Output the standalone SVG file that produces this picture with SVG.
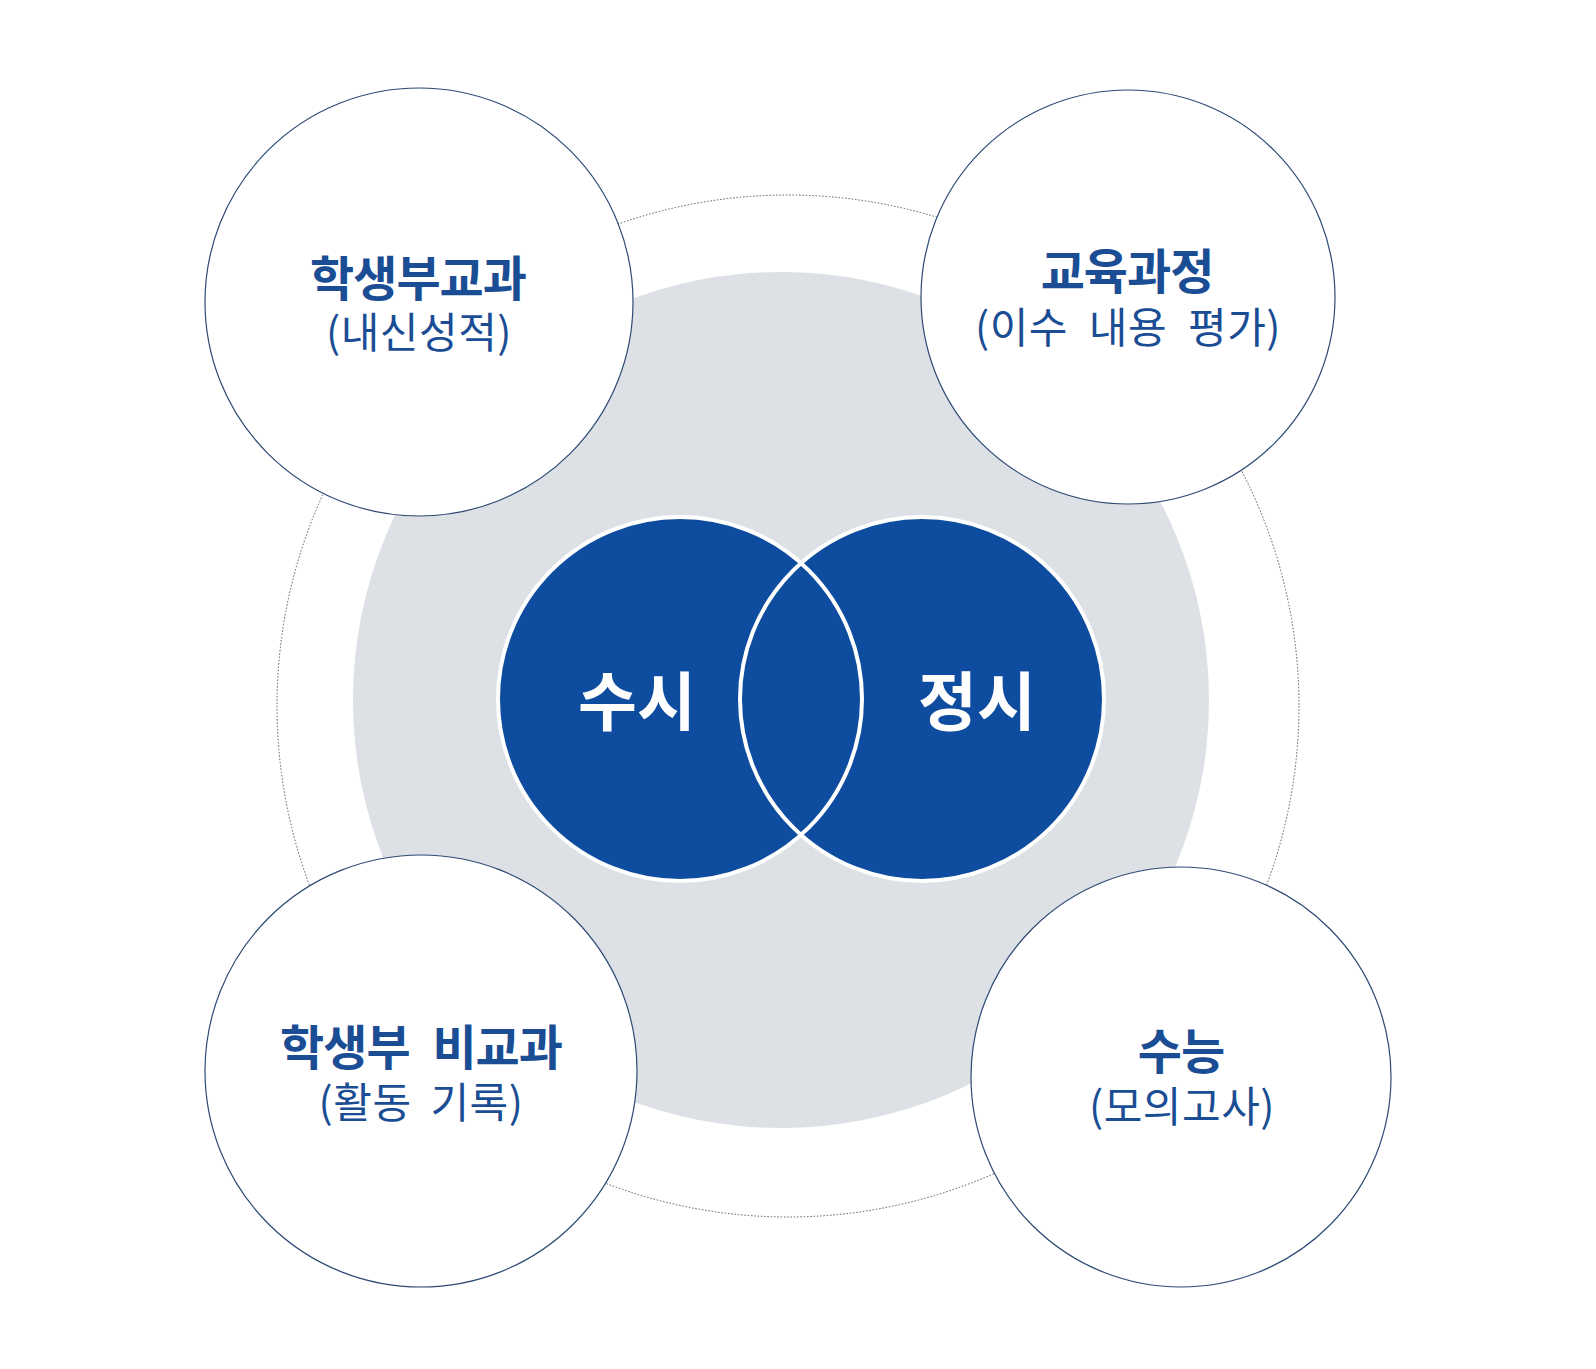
<svg xmlns="http://www.w3.org/2000/svg" width="1596" height="1369" viewBox="0 0 1596 1369">
<style>
.node{fill:#ffffff;stroke:#2e4a74;stroke-width:1.2}
.title{font-family:"Noto Sans CJK KR","Noto Sans",sans-serif;font-weight:700;font-size:48px;fill:#1a4d94;text-anchor:middle;letter-spacing:-1px}
.sub{font-family:"Noto Sans CJK KR","Noto Sans",sans-serif;font-weight:400;font-size:42px;fill:#1a4d94;text-anchor:middle;letter-spacing:0.5px}
.big{font-family:"Noto Sans CJK KR","Noto Sans",sans-serif;font-weight:700;font-size:64px;fill:#ffffff;text-anchor:middle}
.venn{fill:#0d4c9e}
.vennline{fill:none;stroke:#ffffff;stroke-width:4}
</style>
<rect width="1596" height="1369" fill="#ffffff"/>
<g id="ring">
<circle cx="788" cy="706" r="511" fill="none" stroke="#4a5a6c" stroke-width="1" stroke-dasharray="1.5 1.8"/>
<circle cx="781" cy="700" r="428" fill="#dde0e4"/>
</g>
<g id="venn">
<circle class="venn" cx="680" cy="699" r="182"/>
<circle class="venn" cx="922" cy="699" r="182"/>
<circle class="vennline" cx="680" cy="699" r="182"/>
<circle class="vennline" cx="922" cy="699" r="182"/>
<text class="big" x="637" y="725">수시</text>
<text class="big" x="977" y="725">정시</text>
</g>
<g id="node-top-left">
<circle class="node" cx="419" cy="302" r="214"/>
<text class="title" x="418" y="296">학생부교과</text>
<text class="sub" x="419" y="348">(내신성적)</text>
</g>
<g id="node-top-right">
<circle class="node" cx="1128" cy="297" r="207"/>
<text class="title" x="1127" y="289">교육과정</text>
<text class="sub" x="1128" y="343" word-spacing="11">(이수 내용 평가)</text>
</g>
<g id="node-bottom-left">
<circle class="node" cx="421" cy="1071" r="216"/>
<text class="title" x="421" y="1065" word-spacing="13">학생부 비교과</text>
<text class="sub" x="421" y="1118" word-spacing="9">(활동 기록)</text>
</g>
<g id="node-bottom-right">
<circle class="node" cx="1181" cy="1077" r="210"/>
<text class="title" x="1181" y="1069">수능</text>
<text class="sub" x="1182" y="1122">(모의고사)</text>
</g>
<g id="connectors"></g>
</svg>
